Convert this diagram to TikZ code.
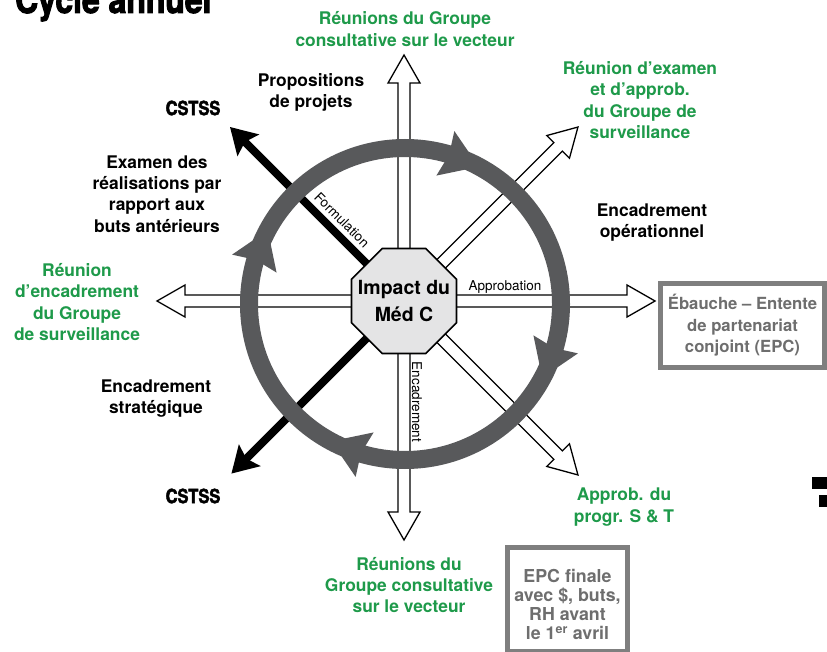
\documentclass[tikz,border=0pt]{standalone}
\usepackage{fontspec}
\setmainfont{TeX Gyre Heros}
\newfontfamily\condfont{TeX Gyre Heros}[FakeStretch=0.84,FakeBold=2.6]
\usetikzlibrary{shapes.geometric}

\definecolor{leafgreen}{HTML}{1E9A4A}
\definecolor{ringgray}{HTML}{58595B}
\definecolor{boxgray}{HTML}{7F7F7F}
\definecolor{boxtext}{HTML}{6E6E6E}
\definecolor{hubfill}{HTML}{E4E4E5}

\tikzset{
  lbl/.style={font=\bfseries\fontsize{17.4}{21.3}\selectfont, align=center, inner sep=0},
  greenlbl/.style={lbl, text=leafgreen},
  blacklbl/.style={lbl, text=black},
  cst/.style={font=\condfont\bfseries\fontsize{19.5}{20}\selectfont, inner sep=0},
  shaftlbl/.style={font=\fontsize{13.5}{14}\selectfont, inner sep=0},
  hollow/.style={draw=black, fill=white, line width=1.3pt, line join=miter},
  solidshaft/.style={draw=black, line width=8pt},
  ring/.style={draw=ringgray, line width=18pt},
  greybox/.style={draw=boxgray, line width=5pt, fill=white},
  boxtxt/.style={font=\bfseries\fontsize{16.7}{21.6}\selectfont, text=boxtext, align=center, inner sep=0},
  finaltxt/.style={font=\bfseries\fontsize{17.8}{19.2}\selectfont, text=boxtext, align=center, inner sep=0},
}

% open (outlined) arrow from the hub: name of tip, direction, length
\newcommand\hollowarrow[3]{%
  \draw[hollow, shift={(hub)}, rotate=#2]
    (0,-6) -- ({#3-28},-6) -- ({#3-28},-16) -- (#3,0) coordinate (#1)
    -- ({#3-28},16) -- ({#3-28},6) -- (0,6) -- cycle;}
% solid black arrow from the hub
\newcommand\solidarrow[3]{%
  \draw[solidshaft, shift={(hub)}, rotate=#2] (0,0) -- ({#3-20},0) coordinate (#1base);
  \fill[black, shift={(hub)}, rotate=#2]
    (#3,0) coordinate (#1) -- ({#3-26},15.5) -- ({#3-21},0) -- ({#3-26},-15.5) -- cycle;}
% arrow head riding on the grey cycle ring, pointing clockwise
\newcommand\ringhead[1]{%
  \fill[ringgray, shift={(ringc)}, rotate=#1, xshift=156pt, rotate=-97]
    (0,24) -- (36,0) -- (0,-24) -- (4,0) -- cycle;}

\begin{document}
\begin{tikzpicture}[x=1pt, y=-1pt]
\useasboundingbox (0,0) rectangle (827,652);
\clip (0,0) rectangle (827,652);
\fill[white] (0,0) rectangle (827,652);

\coordinate (hub) at (404,301);
\coordinate (ringc) at (405,304);

% title, cut by the top edge
\node[anchor=base west, inner sep=0, font=\condfont\bfseries\fontsize{38}{38}\selectfont] (title) at (15,13) {Cycle annuel};

% spokes
\hollowarrow{ntip}{90}{246}
\hollowarrow{stip}{-90}{239}
\hollowarrow{etip}{0}{251}
\hollowarrow{wtip}{180}{247}
\hollowarrow{netip}{45}{246}
\hollowarrow{setip}{-45}{246}
\solidarrow{nwtip}{135}{246}
\solidarrow{swtip}{-135}{244}

% cycle ring
\draw[ring] (ringc) circle[radius=156];
\ringhead{75}
\ringhead{-15}
\ringhead{-105}
\ringhead{165}

% hub
\node[regular polygon, regular polygon sides=8, minimum size=113.6pt, inner sep=0,
      draw=black, line width=1.6pt, fill=hubfill] (hubnode) at (hub) {};
\node[font=\bfseries\fontsize{19.5}{27}\selectfont, align=center, inner sep=0] (hubtext) at (hub) {Impact du\\Méd C};

% spoke captions
\node[shaftlbl] (approb) at (505,287) {Approbation};
\node[shaftlbl, rotate=-45] (formul) at (342,220) {Formulation};
\node[shaftlbl, rotate=-90] (encad) at (417,402) {Encadrement};

% outer captions
\node[greenlbl] (topmeet) at (405,29) {Réunions du Groupe\\consultative sur le vecteur};
\node[blacklbl] (props) at (311,92.5) {Propositions\\de projets};
\node[cst] (cstssA) at (193,108) {CSTSS};
\node[greenlbl] (review) at (640,100) {Réunion d’examen\\et d’approb.\\du Groupe de\\surveillance};
\node[blacklbl] (exam) at (157,194) {Examen des\\réalisations par\\rapport aux\\buts antérieurs};
\node[blacklbl] (opframe) at (652,222.5) {Encadrement\\opérationnel};
\node[greenlbl] (framemeet) at (77,302) {Réunion\\d’encadrement\\du Groupe\\de surveillance};
\node[blacklbl] (stratframe) at (156,398.5) {Encadrement\\stratégique};
\node[cst] (cstssB) at (193,496) {CSTSS};
\node[greenlbl] (stapprob) at (624,507) {Approb. du\\progr. S \& T};
\node[greenlbl] (botmeet) at (409,585) {Réunions du\\Groupe consultative\\sur le vecteur};

% document boxes
\node[greybox, boxtxt, minimum width=164pt, minimum height=83pt] (draft) at (742.5,325.5)
  {Ébauche – Entente\\de partenariat\\conjoint (EPC)};
\draw[greybox] (507.5,547) rectangle (627.5,651);
\node[finaltxt] (final) at (567.5,604.5) {EPC finale\\avec \$, buts,\\RH avant\\le 1\textsuperscript{er} avril};

% fragment at the right edge
\fill[black] (812,477) rectangle (829,489);
\fill[black] (819,495) rectangle (829,507);
\end{tikzpicture}
\end{document}
